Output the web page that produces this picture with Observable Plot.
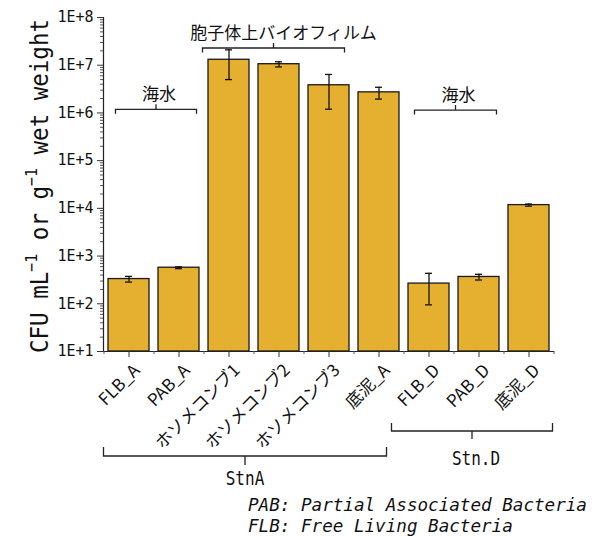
<!DOCTYPE html>
<html><head><meta charset="utf-8">
<script src="https://cdn.jsdelivr.net/npm/d3@7"></script>
<script src="https://cdn.jsdelivr.net/npm/@observablehq/plot@0.6"></script>
<style>
body{margin:0;background:#fff;}
#chart{width:594px;height:536px;}
</style></head><body><div id="chart"></div>
<script>
const categories = ["FLB_A","PAB_A","ホソメコンブ1","ホソメコンブ2","ホソメコンブ3","底泥_A","FLB_D","PAB_D","底泥_D"];
const means  = [330, 570, 1.3e7, 1.05e7, 3.8e6, 2.7e6, 265, 365, 1.17e4];
const errors = [45, 25, 8e6, 1.3e6, 2.6e6, 7.5e5, 170, 50, 600];
const yTicks = [1e1,1e2,1e3,1e4,1e5,1e6,1e7,1e8];
const yTickLabels = ["1E+1","1E+2","1E+3","1E+4","1E+5","1E+6","1E+7","1E+8"];
const groupLabels = ["海水","胞子体上バイオフィルム","海水"];
const groupFrom = ["FLB_A","ホソメコンブ1","FLB_D"];
const groupTo = ["PAB_A","ホソメコンブ3","PAB_D"];
const stationLabels = ["StnA","Stn.D"];
const stationFrom = ["FLB_A","FLB_D"];
const stationTo = ["底泥_A","底泥_D"];
const footKeys = ["PAB","FLB"];
const footTexts = ["Partial Associated Bacteria","Free Living Bacteria"];

// annotation layout (not data)
const groupLevel = [1.16e6, 2.24e7, 1.12e6];
const groupInset = [[7.5,2.5,3],[-5.5,4.5,10],[6.5,2.5,3]];
const stationLayout = [{yl:456, inL:-4.5, inR:12.5, up:9, down:9, ty:478, dx:0},{yl:431, inL:-16.5, inR:-3.5, up:8, down:8, ty:458, dx:4}];

const data = categories.map((c,i)=>({cat:c, v:means[i], lo:means[i]-errors[i], hi:means[i]+errors[i]}));
const minor = [];
for (let e=1;e<8;e++) for (let k=2;k<10;k++) minor.push(k*Math.pow(10,e));

const FONT = '"DejaVu Sans Mono","Noto Sans CJK JP",monospace';
const plot = Plot.plot({
  width:594, height:536,
  marginLeft:103, marginRight:41, marginTop:17, marginBottom:185,
  style:{fontFamily:FONT, fontSize:"15px", color:"#111", background:"#fff", overflow:"visible"},
  x:{domain:categories, paddingInner:0.18, paddingOuter:0.09, label:null},
  y:{type:"log", domain:[10,1e8], label:null},
  marks:[
    Plot.barY(data,{x:"cat", y1:10, y2:"v", fill:"#E5AF2F", stroke:"#1a1a1a", strokeWidth:1.3}),
    Plot.ruleX(data,{x:"cat", y1:"lo", y2:"hi", stroke:"#111", strokeWidth:1.3}),
    Plot.tickY(data,{x:"cat", y:"lo", insetLeft:17, insetRight:17, stroke:"#111", strokeWidth:1.3}),
    Plot.tickY(data,{x:"cat", y:"hi", insetLeft:17, insetRight:17, stroke:"#111", strokeWidth:1.3}),
    Plot.frame({anchor:"left", stroke:"#222", strokeWidth:1.2}),
    Plot.frame({anchor:"bottom", stroke:"#222", strokeWidth:1.2}),
    Plot.axisY({ticks:yTicks, tickFormat:d=>yTickLabels[yTicks.indexOf(d)], tickSize:6, tickPadding:4, fontSize:15, label:null, stroke:"#333"}),
    Plot.axisY({ticks:minor, tickSize:3, tickFormat:()=>"", label:null, stroke:"#555"}),
    Plot.axisX({tickSize:6, tickFormat:()=>"", label:null, stroke:"#333"}),
    Plot.axisX({tickRotate:-45, tickSize:0, tickPadding:16, dx:8, fontSize:17, fontFamily:'"Noto Sans CJK JP",sans-serif', label:null}),
    Plot.axisX({ticks:categories, tickSize:3, tickFormat:()=>"", dx:-25, label:null, stroke:"#555"}),
    Plot.axisX({ticks:[categories[categories.length-1]], tickSize:3, tickFormat:()=>"", dx:25, label:null, stroke:"#555"})
  ]
});
document.getElementById("chart").appendChild(plot);

const svg = d3.select(plot);
const xs = plot.scale("x"), ys = plot.scale("y");
const bw = xs.bandwidth;
const g = svg.append("g").attr("fill","none").attr("stroke","#222").attr("stroke-width",1.3);

groupLabels.forEach((lab,i)=>{
  const l = xs.apply(groupFrom[i]) + groupInset[i][0];
  const r = xs.apply(groupTo[i]) + bw - groupInset[i][1];
  const y = ys.apply(groupLevel[i]);
  const m = (l+r)/2;
  g.append("path").attr("d",`M${l},${y+4.5}V${y}H${r}V${y+4.5}M${m},${y}V${y-5}`);
  svg.append("text").attr("x",m+groupInset[i][2]).attr("y",y-17).attr("text-anchor","middle")
    .attr("dominant-baseline","central").attr("font-family",'"Noto Sans CJK JP",sans-serif')
    .attr("font-size",17).attr("fill","#111").text(lab);
});

stationLabels.forEach((lab,i)=>{
  const L = stationLayout[i];
  const l = xs.apply(stationFrom[i]) + L.inL;
  const r = xs.apply(stationTo[i]) + bw - L.inR;
  const m = (l+r)/2;
  g.append("path").attr("d",`M${l},${L.yl-L.up}V${L.yl}H${r}V${L.yl-L.up}M${m},${L.yl}V${L.yl+L.down}`);
  svg.append("text").attr("transform",`translate(${m+L.dx},${L.ty}) scale(1,1.25)`).attr("text-anchor","middle")
    .attr("dominant-baseline","central").attr("font-family",FONT)
    .attr("font-size",16).attr("fill","#111").text(lab);
});

// y label
const yl = svg.append("text").attr("transform","translate(48,186) rotate(-90) scale(1,1.1)")
  .attr("text-anchor","middle").attr("font-family",FONT).attr("font-size",22.5).attr("fill","#111");
yl.append("tspan").text("CFU mL");
yl.append("tspan").attr("dy",-10).attr("font-size",15).text("−1");
yl.append("tspan").attr("dy",10).text(" or g");
yl.append("tspan").attr("dy",-10).attr("font-size",15).text("−1");
yl.append("tspan").attr("dy",10).text(" wet weight");

// footnotes
footKeys.forEach((k,i)=>{
  svg.append("text").attr("x",248).attr("y",511+i*21)
    .attr("text-anchor","start")
    .attr("font-family",FONT).attr("font-size",17.6).attr("font-style","italic").attr("fill","#111")
    .text(k + ": " + footTexts[i]);
});
</script></body></html>
